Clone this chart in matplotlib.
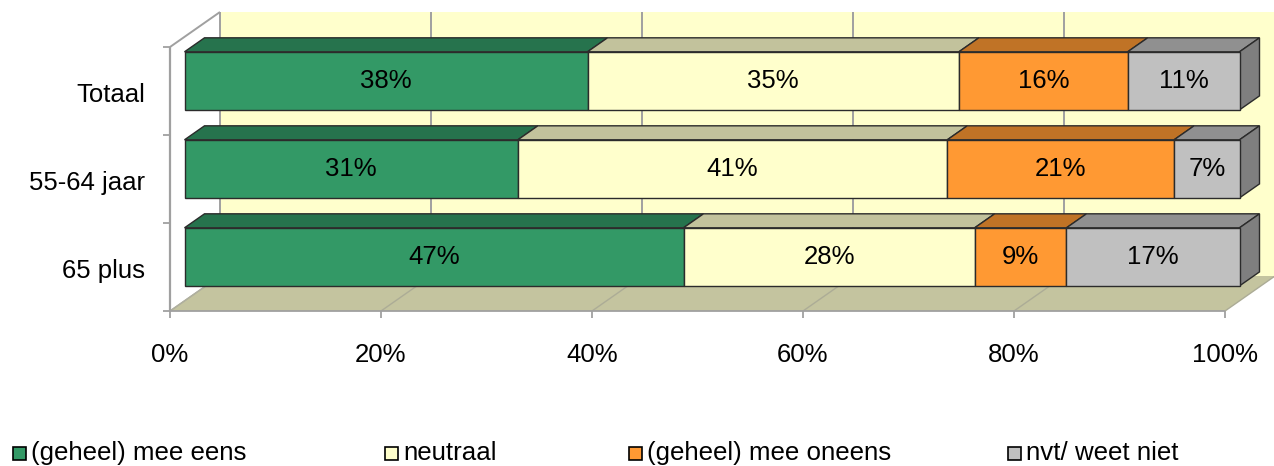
import matplotlib
matplotlib.use("Agg")
import matplotlib.pyplot as plt
import numpy as np
from matplotlib.patches import Polygon, Rectangle
from matplotlib.transforms import IdentityTransform, offset_copy, blended_transform_factory

plt.rcParams['font.family'] = ['Liberation Sans', 'DejaVu Sans']

# ---------------- data ----------------
categories = ["Totaal", "55-64 jaar", "65 plus"]
series = ["(geheel) mee eens", "neutraal", "(geheel) mee oneens", "nvt/ weet niet"]
# bar lengths (share of 100%)
shares = [
    [38.2, 35.2, 16.0, 10.6],
    [31.6, 40.7, 21.5, 6.2],
    [47.3, 27.6, 8.7, 16.4],
]
# data labels as printed on the bars
printed = [
    [38, 35, 16, 11],
    [31, 41, 21, 7],
    [47, 28, 9, 17],
]
xticks = [0, 20, 40, 60, 80, 100]
xtick_labels = ["0%", "20%", "40%", "60%", "80%", "100%"]

# ---------------- style ----------------
front_cols = ["#339966", "#FFFFCC", "#FF9933", "#C0C0C0"]
top_cols = ["#26734D", "#C2C29C", "#C07326", "#909090"]
side_cols = ["#1F5C3D", "#A6A683", "#A66020", "#7F7F7F"]
wall_col = "#FFFFCC"
floor_col = "#C4C49F"
grid_col = "#A0A0A0"
edge_col = "#2B2B2B"

W, H = 1274, 466
DX, DY = 50.0, 35.0          # depth projection in pixels
D0, D1 = 0.29, 0.69          # bar front / back depth (fraction of full depth)
BAR_H = 0.66                 # bar thickness (category units)
FS = 18.5

fig = plt.figure(figsize=(W / 100, H / 100), dpi=100)
ax = fig.add_axes([170 / W, 1 - 311 / H, 1055 / W, 264 / H])
ax.set_xlim(0, 100)
ax.set_ylim(len(categories), 0)
ax.set_axis_off()


def P(v, c, d):
    x, y = ax.transData.transform((v, c))
    return (x + d * DX, y + d * DY)


def poly(pts, fc, ec="none", lw=0, z=1):
    p = Polygon(pts, closed=True, facecolor=fc, edgecolor=ec, linewidth=lw,
                transform=IdentityTransform(), clip_on=False, zorder=z, joinstyle='miter')
    ax.add_artist(p)
    return p


def line(p1, p2, color=grid_col, lw=1.3, z=2):
    ax.add_line(plt.Line2D([p1[0], p2[0]], [p1[1], p2[1]], color=color, lw=lw,
                           transform=IdentityTransform(), clip_on=False, zorder=z,
                           solid_capstyle='butt'))


n = len(categories)
vmax = xticks[-1]

# back wall
poly([P(0, 0, 1), P(vmax, 0, 1), P(vmax, n, 1), P(0, n, 1)], wall_col, z=0)
# floor
poly([P(0, n, 0), P(vmax, n, 0), P(vmax, n, 1), P(0, n, 1)], floor_col, z=0)
# gridlines on back wall and floor
for v in xticks:
    line(P(v, 0, 1), P(v, n, 1), lw=1.4, z=1)
    line(P(v, n, 0), P(v, n, 1), color="#ACAC96", lw=1.0, z=1)
# left side wall edges
line(P(0, 0, 0), P(0, 0, 1), lw=1.4, z=1)
line(P(0, n, 0), P(0, n, 1), color="#B0B0A0", lw=1.0, z=1)
# front axes lines
line(P(0, 0, 0), P(0, n, 0), lw=1.6, z=1)
line(P(0, n, 0), P(vmax, n, 0), lw=1.3, z=1)
# ticks
for c in range(n + 1):
    x, y = P(0, c, 0)
    line((x - 7, y), (x, y), lw=1.3, z=1)
for v in xticks:
    x, y = P(v, n, 0)
    line((x, y), (x, y - 7), lw=1.3, z=1)

# bars
lab_tr = offset_copy(ax.transData, fig=fig, x=D0 * DX, y=D0 * DY, units='dots')
for i in range(n):
    top = i + 0.5 - BAR_H / 2
    bot = i + 0.5 + BAR_H / 2
    left = 0.0
    for k, val in enumerate(shares[i]):
        right = left + val
        # top face
        poly([P(left, top, D0), P(right, top, D0), P(right, top, D1), P(left, top, D1)],
             top_cols[k], edge_col, 1.0, z=3)
        # front face
        poly([P(left, top, D0), P(right, top, D0), P(right, bot, D0), P(left, bot, D0)],
             front_cols[k], edge_col, 1.0, z=4)
        if k == len(shares[i]) - 1:
            poly([P(right, top, D0), P(right, top, D1), P(right, bot, D1), P(right, bot, D0)],
                 side_cols[k], edge_col, 1.0, z=3)
        ax.text((left + right) / 2, i + 0.5, f"{printed[i][k]}%", transform=lab_tr,
                ha='center', va='center', fontsize=FS, color='black', zorder=6)
        left = right

# category labels
cat_tr = offset_copy(blended_transform_factory(ax.transAxes, ax.transData), fig=fig,
                     x=-25, y=-4, units='dots')
for i, name in enumerate(categories):
    ax.text(0, i + 0.5, name, transform=cat_tr, ha='right', va='center', fontsize=FS)

# x tick labels
xt_tr = offset_copy(ax.transData, fig=fig, x=0, y=-44, units='dots')
for v, s in zip(xticks, xtick_labels):
    ax.text(v, n, s, transform=xt_tr, ha='center', va='center', fontsize=FS)

# legend
leg_x = [13, 385, 629, 1008]
leg_y = 453
for k, name in enumerate(series):
    fig.add_artist(Rectangle((leg_x[k] / W, 1 - (leg_y + 6.5) / H), 13 / W, 13 / H,
                             transform=fig.transFigure, facecolor=front_cols[k],
                             edgecolor='black', linewidth=1.2))
    fig.text((leg_x[k] + 18) / W, 1 - leg_y / H, name, ha='left', va='center',
             fontsize=18.6)

fig.savefig("out.png", dpi=100)
